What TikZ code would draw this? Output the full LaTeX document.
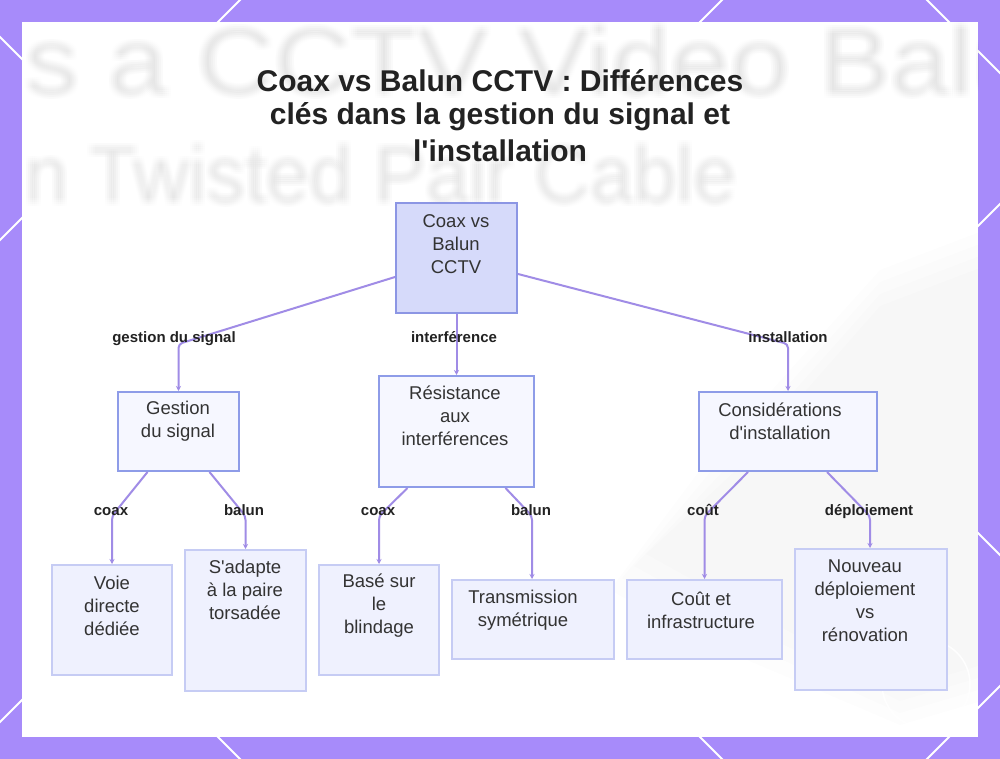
\documentclass[tikz,border=0pt]{standalone}
\usepackage{fontspec}
\setmainfont{Liberation Sans}
\usetikzlibrary{arrows.meta,calc}
\definecolor{bgpurple}{RGB}{167,139,250}
\definecolor{edgec}{RGB}{160,140,230}
\definecolor{rootfill}{RGB}{214,218,250}
\definecolor{rootdraw}{RGB}{140,150,228}
\definecolor{midfill}{RGB}{246,247,255}
\definecolor{middraw}{RGB}{142,156,232}
\definecolor{leaffill}{RGB}{239,241,254}
\definecolor{leafdraw}{RGB}{198,204,244}
\definecolor{txtc}{RGB}{51,51,51}
\definecolor{titlec}{RGB}{34,34,34}
\begin{document}
\begin{tikzpicture}[x=1pt,y=-1pt,
  box/.style={draw, line width=2pt, inner sep=0pt},
  rootbox/.style={box, fill=rootfill, draw=rootdraw},
  midbox/.style={box, fill=midfill, draw=middraw},
  leafbox/.style={box, fill=leaffill, draw=leafdraw},
  ntext/.style={font=\fontsize{18.5}{23}\selectfont, text=txtc, align=center, inner sep=0pt},
  elabel/.style={font=\fontsize{15}{18}\selectfont\bfseries, text=titlec, inner sep=0pt, anchor=base},
  titletext/.style={font=\fontsize{30}{34}\selectfont\bfseries, text=titlec, inner sep=0pt, anchor=base},
  conn/.style={draw=edgec, line width=2pt, rounded corners=4pt, -{Stealth[length=5pt,width=5pt]}},
  ghost/.style={inner sep=0pt, anchor=base west, text=black, text opacity=0.0028},
  deco/.style={white, line width=2pt},
]
\useasboundingbox (0,0) rectangle (1000,759);
\begin{scope}
\clip (0,0) rectangle (1000,759);
\fill[bgpurple] (0,0) rectangle (1000,759);
% full diagonal lines
\draw[deco] (-100,-63) -- (900,937);     % x-y=-37
\draw[deco] (340,-100) -- (-100,340);    % x+y=240
\draw[deco] (822,-100) -- (-100,822);    % x+y=722
\draw[deco] (827,-100) -- (1100,173);    % x-y=927
\draw[deco] (1100,586) -- (827,859);     % x+y=1686
% segments entering from one edge only
\draw[deco] (1100,104) -- (900,304);     % x+y=1204
\draw[deco] (1100,655) -- (900,455);     % x-y=445
\draw[deco] (340,859) -- (140,659);      % x-y=-519
\end{scope}
\fill[white] (22,22) rectangle (978,737);
% faint background picture
\begin{scope}
\clip (22,22) rectangle (978,737);
\foreach \dx in {-4,-2,0,2,4}
  \foreach \dy in {-4,-2,0,2,4} {
    \node[ghost, font=\fontsize{95}{95}\selectfont] at (25+\dx,95+\dy) {\scalebox{1.125}[1]{s a CCTV Video Balun}};
    \node[ghost, font=\fontsize{80}{80}\selectfont] at (25+\dx,203+\dy) {\scalebox{0.97}[1]{n Twisted Pair Cable}};
  }
\foreach \s in {0,12,24,36} {
  \fill[black, opacity=0.009] (985,230+\s) -- (985,700-\s) -- (900,725-\s) -- (700+\s,640-\s) -- (610+\s,590-\s) -- (700+\s,470) -- (880,270+\s) -- cycle;
}
\draw[white, line width=1.5pt, opacity=0.9] (926,684) circle[radius=44];
\end{scope}
% title
\node[titletext] (t1) at (500,92) {Coax vs Balun CCTV : Différences};
\node[titletext] (t2) at (500,125) {clés dans la gestion du signal et};
\node[titletext] (t3) at (500,162) {l\textquotesingle installation};
% boxes
\node[rootbox, minimum width=121, minimum height=110] (root) at (456.5,258) {};
\node[midbox, minimum width=121, minimum height=79] (gestion) at (178.5,431.5) {};
\node[midbox, minimum width=155, minimum height=111] (resist) at (456.5,431.5) {};
\node[midbox, minimum width=178, minimum height=79] (consid) at (788,431.5) {};
\node[leafbox, minimum width=120, minimum height=110] (voie) at (112,620) {};
\node[leafbox, minimum width=121, minimum height=141] (sadapte) at (245.5,620.5) {};
\node[leafbox, minimum width=120, minimum height=110] (base) at (379,620) {};
\node[leafbox, minimum width=162, minimum height=79] (trans) at (533,619.5) {};
\node[leafbox, minimum width=155, minimum height=79] (cout) at (704.5,619.5) {};
\node[leafbox, minimum width=152, minimum height=141] (nouveau) at (871,619.5) {};
% box texts
\node[ntext] (rootT) at (456,244) {Coax vs\\Balun\\CCTV};
\node[ntext] (gestionT) at (178,421) {Gestion\\du signal};
\node[ntext] (resistT) at (455,416) {Résistance\\aux\\interférences};
\node[ntext] (considT) at (780,421) {Considérations\\d\textquotesingle installation};
\node[ntext] (voieT) at (112,606) {Voie\\directe\\dédiée};
\node[ntext] (sadapteT) at (245,590) {S\textquotesingle adapte\\à la paire\\torsadée};
\node[ntext] (baseT) at (379,606) {Basé sur\\le\\blindage};
\node[ntext] (transT) at (523,610) {Transmission\\symétrique};
\node[ntext] (coutT) at (701,610) {Coût et\\infrastructure};
\node[ntext] (nouveauT) at (865,601) {Nouveau\\déploiement\\vs\\rénovation};
% connectors
\draw[conn] ($(root.west)+(0,19)$) -- ($(gestion.north)+(0,-47)$) -- (gestion.north);
\draw[conn] (root.south) -- (resist.north);
\draw[conn] ($(root.east)+(0,16)$) -- ($(consid.north)+(0,-47)$) -- (consid.north);
\draw[conn] ($(gestion.south)+(-31,0)$) -- ($(voie.north)+(0,-48)$) -- (voie.north);
\draw[conn] ($(gestion.south)+(31,0)$) -- ($(sadapte.north)+(0,-33)$) -- (sadapte.north);
\draw[conn] ($(resist.south)+(-49,0)$) -- ($(base.north)+(0,-48)$) -- (base.north);
\draw[conn] ($(resist.south)+(49,0)$) -- ($(trans.north)+(-1,-63)$) -- ($(trans.north)+(-1,0)$);
\draw[conn] ($(consid.south)+(-40,0)$) -- ($(cout.north)+(0,-63)$) -- (cout.north);
\draw[conn] ($(consid.south)+(39,0)$) -- ($(nouveau.north)+(-1,-32)$) -- ($(nouveau.north)+(-1,0)$);
% edge labels
\node[elabel] (l1) at (174,342) {gestion du signal};
\node[elabel] (l2) at (454,342) {interférence};
\node[elabel] (l3) at (788,342) {installation};
\node[elabel] (l4) at (111,515) {coax};
\node[elabel] (l5) at (244,515) {balun};
\node[elabel] (l6) at (378,515) {coax};
\node[elabel] (l7) at (531,515) {balun};
\node[elabel] (l8) at (703,515) {coût};
\node[elabel] (l9) at (869,515) {déploiement};
\end{tikzpicture}
\end{document}
